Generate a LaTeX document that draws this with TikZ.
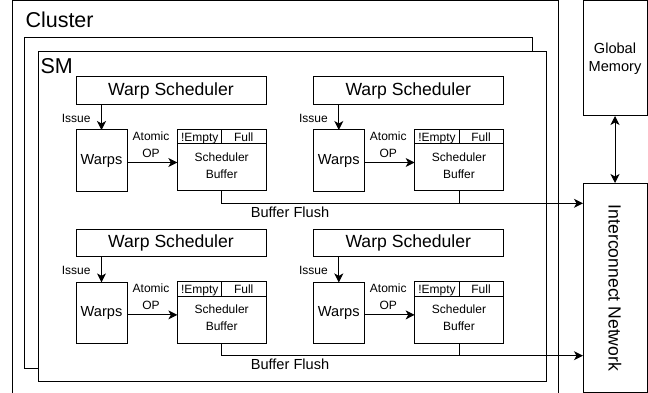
\documentclass[tikz,border=0pt]{standalone}
\usepackage{fontspec}
\setmainfont{Liberation Sans}
\usetikzlibrary{arrows.meta}
\begin{document}
\begin{tikzpicture}[x=1pt,y=-1pt,line width=1pt,
  box/.style={draw,rectangle,inner sep=0pt,outer sep=0pt,fill=white},
  arr/.style={-{Stealth[length=9pt,width=9pt,inset=2.5pt]}},
  darr/.style={{Stealth[length=9pt,width=9pt,inset=2.5pt]}-{Stealth[length=9pt,width=9pt,inset=2.5pt]}},
  small/.style={inner sep=0pt,align=center,font=\fontsize{12}{16.6}\selectfont},
  mid/.style={inner sep=0pt,align=center,font=\fontsize{14.6}{18.3}\selectfont},
  big/.style={inner sep=0pt,align=center,font=\fontsize{17.6}{20}\selectfont},
  huge/.style={inner sep=0pt,font=\fontsize{21.5}{24}\selectfont}]
\useasboundingbox (0,0) rectangle (648,393);
% cluster (open at the bottom)
\draw (12,400) -- (12,1) -- (558,1) -- (558,400);
\node[huge,anchor=base west] (clusterlbl) at (25,28) {Cluster};
% SM stack
\node[box,minimum width=508,minimum height=330] (smback) at (278,203) {};
\node[box,minimum width=508,minimum height=329] (sm) at (292,216.5) {};
\node[huge,anchor=base west] (smlbl) at (40,73.3) {SM};
% right side
\node[box,mid,minimum width=64,minimum height=115] (gm) at (615,58.5) {Global\\Memory};
\node[box,big,minimum width=64,minimum height=209] (icn) at (615,287.5) {};
\node[big,rotate=-90] (icnlbl) at (615,288) {Interconnect Network};
\draw[darr] (gm.south) -- (icn.north);
\foreach \r/\dy in {1/0,2/152.4}{
  \coordinate (fy\r) at (0,203.3+\dy);
  \foreach \c/\dx in {1/0,2/237.3}{
    \node[box,big,minimum width=190,minimum height=27.5] (ws\r\c) at (171+\dx,90.5+\dy) {Warp Scheduler};
    \node[box,mid,minimum width=51,minimum height=61] (w\r\c) at (101.5+\dx,160.5+\dy) {Warps};
    \node[box,minimum width=88.7,minimum height=61.4] (b\r\c) at (221.7+\dx,160+\dy) {};
    \draw ([yshift=-14.7pt]b\r\c.north west) -- ([yshift=-14.7pt]b\r\c.north east);
    \draw (b\r\c.north) -- ([yshift=-14.7pt]b\r\c.north);
    \node[small,anchor=base] (em\r\c) at ([xshift=-22pt,yshift=-12.2pt]b\r\c.north) {!Empty};
    \node[small,anchor=base] (fu\r\c) at ([xshift=22pt,yshift=-12.2pt]b\r\c.north) {Full};
    \node[small] (sb\r\c) at ([yshift=-5.5pt]b\r\c.center) {Scheduler\\Buffer};
    \node[small,anchor=east] (is\r\c) at (91+\dx,118+\dy) {Issue};
    \draw[arr] (ws\r\c.south -| w\r\c.north) -- (w\r\c.north);
    \node[small] (ao\r\c) at (151+\dx,144.5+\dy) {Atomic\\OP};
    \coordinate (aw\r\c) at ([yshift=-2pt]w\r\c.east);
    \draw[arr] (aw\r\c) -- (b\r\c.west |- aw\r\c);
  }
  \draw[arr] (b\r1.south) |- (icn.west |- fy\r);
  \draw (b\r2.south) -- (b\r2.south |- fy\r);
  \node[mid] (bf\r) at (290,212+\dy) {Buffer Flush};
}
\end{tikzpicture}
\end{document}
